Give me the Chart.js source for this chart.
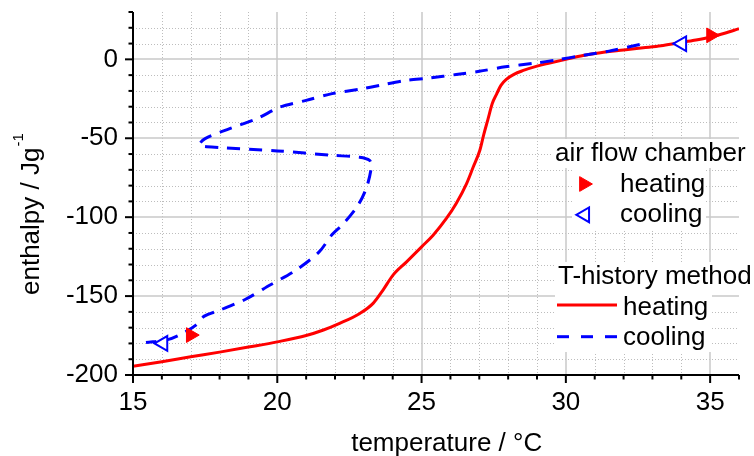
<!DOCTYPE html>
<html>
<head>
<meta charset="utf-8">
<script src="https://cdn.jsdelivr.net/npm/chart.js@4.4.0/dist/chart.umd.min.js"></script>
<style>
  body { margin: 0; background: #fff; }
  canvas { display: block; }
</style>
</head>
<body>
<canvas id="myChart" width="754" height="456"></canvas>
<script>
// T-history method, heating (red solid)
const heatT = [15, 16, 17, 18, 19, 20, 21, 21.6, 22.16, 22.86, 23.32, 23.67, 24.01, 24.48, 25.0, 25.4, 25.86, 26.2, 26.56, 26.79, 27.02, 27.15, 27.3, 27.45, 27.6, 27.75, 27.95, 28.2, 28.5, 29.0, 29.4, 30.0, 30.6, 31.2, 32.0, 32.68, 33.3, 33.84, 34.4, 35.0, 35.5, 36.0];
const heatH = [-194.5, -191.6, -188.5, -185.5, -182.3, -179, -175, -171.5, -167.3, -161, -154.6, -146, -136.7, -128.3, -118.8, -111.4, -100.8, -91.3, -78.7, -68.2, -57.6, -48, -38, -28, -22, -16.5, -12.5, -9.5, -7.2, -4.3, -2.5, 0, 2.4, 4.2, 5.9, 7.3, 8.6, 10.2, 11.9, 14.0, 16.5, 19.4];

// T-history method, cooling (blue dashed), in drawing order
const coolT = [32.56, 31.5, 30.6, 29.7, 28.9, 27.9, 27.0, 26.2, 25.3, 24.4, 23.55, 22.9, 21.9, 21.0, 20.1, 19.3, 18.35, 17.5, 17.3, 18.0, 20.0, 21.9, 22.85, 23.2, 23.26, 23.1, 22.8, 22.3, 21.9, 21.45, 20.65, 19.75, 18.9, 18.0, 17.47, 17.18, 16.72, 16.2, 15.45];
const coolH = [9.4, 5.2, 2.5, -0.3, -2.5, -4.7, -7.6, -9.6, -11.8, -13.5, -16.5, -18.8, -21.7, -26, -30.2, -37.5, -43.9, -50.2, -54.4, -55.9, -58, -60.8, -62, -64, -68, -80.8, -92.4, -104, -111, -122, -133.5, -143, -152, -159, -162.7, -168.4, -173.6, -177.6, -179.4];

// air flow chamber markers
const afcHeatT = [17.0, 35.03];
const afcHeatH = [-174.7, 15.2];
const afcCoolT = [16.04, 34.02];
const afcCoolH = [-180, 9.9];

const FONT = '"Liberation Sans", Arial, sans-serif';

function pts(xs, ys) {
  return xs.map((x, i) => ({ x: x, y: ys[i] }));
}

function triangle(ctx, x, y, r, rotDeg) {
  let rad = rotDeg * Math.PI / 180;
  ctx.beginPath();
  ctx.moveTo(x + Math.sin(rad) * r, y - Math.cos(rad) * r);
  rad += 2 * Math.PI / 3;
  ctx.lineTo(x + Math.sin(rad) * r, y - Math.cos(rad) * r);
  rad += 2 * Math.PI / 3;
  ctx.lineTo(x + Math.sin(rad) * r, y - Math.cos(rad) * r);
  ctx.closePath();
}

function seg(ctx, x1, y1, x2, y2) {
  ctx.beginPath();
  ctx.moveTo(x1, y1);
  ctx.lineTo(x2, y2);
  ctx.stroke();
}

function noPad(s) {
  s.paddingTop = 0;
  s.paddingBottom = 0;
  s.paddingLeft = 0;
  s.paddingRight = 0;
}

const decor = {
  id: 'decor',
  beforeDatasetsDraw(chart) {
    const ctx = chart.ctx, a = chart.chartArea;
    const xs = chart.scales.x, ys = chart.scales.y;
    ctx.save();
    // minor grid, dotted
    ctx.strokeStyle = '#bdbdbd';
    ctx.lineWidth = 1;
    ctx.setLineDash([1, 2]);
    for (let t = 16; t < 36; t++) {
      if (t % 5 === 0) continue;
      const px = Math.round(xs.getPixelForValue(t)) + 0.5;
      seg(ctx, px, a.top, px, a.bottom);
    }
    for (let h = -190; h <= 20; h += 10) {
      if (h % 50 === 0) continue;
      const py = Math.round(ys.getPixelForValue(h)) + 0.5;
      seg(ctx, a.left, py, a.right, py);
    }
    // major grid, solid
    ctx.setLineDash([]);
    ctx.strokeStyle = '#c8c8c8';
    ctx.lineWidth = 1.5;
    [20, 25, 30, 35].forEach(t => {
      const px = Math.round(xs.getPixelForValue(t));
      seg(ctx, px, a.top, px, a.bottom);
    });
    [-150, -100, -50, 0].forEach(h => {
      const py = Math.round(ys.getPixelForValue(h));
      seg(ctx, a.left, py, a.right, py);
    });
    ctx.restore();
  },
  afterDatasetsDraw(chart) {
    const ctx = chart.ctx, a = chart.chartArea;
    const xs = chart.scales.x, ys = chart.scales.y;
    ctx.save();
    ctx.strokeStyle = '#000';
    ctx.lineWidth = 2;
    seg(ctx, a.left, a.top, a.left, a.bottom + 1);
    seg(ctx, a.left - 1, a.bottom, a.right, a.bottom);
    for (let t = 15; t <= 36; t++) {
      const px = xs.getPixelForValue(t);
      const len = t % 5 === 0 ? 8 : 4.5;
      seg(ctx, px, a.bottom, px, a.bottom + len);
    }
    for (let h = -200; h <= 30; h += 10) {
      const py = ys.getPixelForValue(h);
      const len = h % 50 === 0 ? 8 : 4.5;
      seg(ctx, a.left, py, a.left - len, py);
    }
    ctx.restore();
  },
  afterDraw(chart) {
    const ctx = chart.ctx;
    ctx.save();
    ctx.fillStyle = '#000';
    ctx.font = '26px ' + FONT;
    ctx.textBaseline = 'alphabetic';

    // x title
    ctx.textAlign = 'center';
    ctx.fillText('temperature / °C', 446.7, 451);

    // y title with superscript
    ctx.textAlign = 'left';
    ctx.save();
    ctx.translate(38.6, 295);
    ctx.rotate(-Math.PI / 2);
    const main = 'enthalpy / Jg';
    ctx.fillText(main, 0, 0);
    const w = ctx.measureText(main).width;
    ctx.font = '15px ' + FONT;
    ctx.fillText('-1', w + 1, -16);
    ctx.restore();

    // legend backgrounds
    ctx.fillStyle = '#fff';
    ctx.fillRect(553, 139, 195, 29);
    ctx.fillRect(574, 168, 132, 31);
    ctx.fillRect(572, 200, 134, 30);
    ctx.fillRect(556, 262, 198, 30);
    ctx.fillRect(555, 292, 157, 30);
    ctx.fillRect(555, 322, 157, 30);

    ctx.fillStyle = '#000';
    ctx.font = '26px ' + FONT;
    ctx.fillText('air flow chamber', 555, 160.5);
    ctx.fillText('heating', 620, 191.5);
    ctx.fillText('cooling', 620, 222);
    ctx.fillText('T-history method', 558, 283.5);
    ctx.fillText('heating', 623, 315);
    ctx.fillText('cooling', 623, 345);

    // legend markers
    ctx.fillStyle = '#ff0000';
    ctx.strokeStyle = '#ff0000';
    ctx.lineWidth = 1;
    triangle(ctx, 583.9, 184, 8.5, 90);
    ctx.fill();
    ctx.stroke();
    ctx.fillStyle = '#fff';
    ctx.strokeStyle = '#0000ff';
    ctx.lineWidth = 2;
    triangle(ctx, 584.8, 214.8, 8.5, -90);
    ctx.fill();
    ctx.stroke();

    // legend lines
    ctx.lineWidth = 3;
    ctx.strokeStyle = '#ff0000';
    seg(ctx, 557, 305, 617, 305);
    ctx.strokeStyle = '#0000ff';
    ctx.setLineDash([12, 12]);
    seg(ctx, 557, 336.7, 617, 336.7);
    ctx.restore();
  }
};

new Chart('myChart', {
  type: 'line',
  data: {
    datasets: [
      {
        label: 'air flow chamber heating',
        data: pts(afcHeatT, afcHeatH),
        showLine: false,
        pointStyle: 'triangle',
        pointRotation: 90,
        pointRadius: 8.5,
        pointBackgroundColor: '#ff0000',
        pointBorderColor: '#ff0000',
        pointBorderWidth: 1
      },
      {
        label: 'air flow chamber cooling',
        data: pts(afcCoolT, afcCoolH),
        showLine: false,
        pointStyle: 'triangle',
        pointRotation: -90,
        pointRadius: 8.5,
        pointBackgroundColor: '#ffffff',
        pointBorderColor: '#0000ff',
        pointBorderWidth: 2
      },
      {
        label: 'T-history cooling',
        data: pts(coolT, coolH),
        borderColor: '#0000ff',
        borderWidth: 3,
        borderDash: [13, 9],
        pointRadius: 0,
        tension: 0.3,
        fill: false
      },
      {
        label: 'T-history heating',
        data: pts(heatT, heatH),
        borderColor: '#ff0000',
        borderWidth: 3,
        pointRadius: 0,
        cubicInterpolationMode: 'monotone',
        fill: false
      }
    ]
  },
  options: {
    responsive: false,
    animation: false,
    devicePixelRatio: 1,
    layout: { padding: { left: 0, top: 12, right: 15, bottom: 0 } },
    plugins: { legend: { display: false }, tooltip: { enabled: false } },
    scales: {
      x: {
        type: 'linear',
        min: 15,
        max: 36,
        grid: { display: false, drawTicks: false },
        border: { display: false },
        ticks: {
          stepSize: 5,
          includeBounds: false,
          autoSkip: false,
          maxRotation: 0,
          padding: 12,
          color: '#000',
          font: { family: FONT, size: 26 }
        },
        afterFit: s => { s.height = 81; noPad(s); }
      },
      y: {
        min: -200,
        max: 30,
        grid: { display: false, drawTicks: false },
        border: { display: false },
        ticks: {
          stepSize: 50,
          includeBounds: false,
          autoSkip: false,
          padding: 15,
          color: '#000',
          font: { family: FONT, size: 26 }
        },
        afterFit: s => { s.width = 133; noPad(s); }
      }
    }
  },
  plugins: [decor]
});
</script>
</body>
</html>
